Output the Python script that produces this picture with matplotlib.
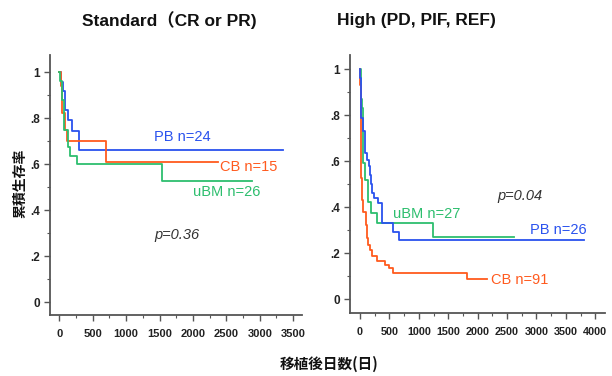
import matplotlib
matplotlib.use("Agg")
import matplotlib.pyplot as plt
from matplotlib.ticker import MultipleLocator, FixedLocator

plt.rcParams['font.family'] = ['Liberation Sans', 'Noto Sans CJK JP', 'DejaVu Sans']

# ---------------- data ----------------
panel_titles = ["Standard（CR or PR)", "High (PD, PIF, REF)"]
x_label = "移植後日数(日)"
y_label = "累積生存率"
y_tick_labels = ["0", ".2", ".4", ".6", ".8", "1"]
y_ticks = [0, 0.2, 0.4, 0.6, 0.8, 1.0]

# Standard risk
std_pb_t = [0, 25, 60, 90, 130, 190, 290]
std_pb_s = [1.0, 0.958, 0.917, 0.833, 0.792, 0.745, 0.66]
std_pb_end = 3350
std_cb_t = [0, 30, 45, 85, 110, 700]
std_cb_s = [1.0, 0.94, 0.82, 0.75, 0.70, 0.61]
std_cb_end = 2380
std_bm_t = [0, 10, 40, 70, 130, 160, 270, 1540]
std_bm_s = [1.0, 0.96, 0.88, 0.75, 0.675, 0.635, 0.60, 0.525]
std_bm_end = 2880

# High risk
hi_pb_t = [0, 5, 10, 17, 57, 85, 113, 153, 170, 185, 198, 243, 300, 368, 566, 668]
hi_pb_s = [1.0, 0.96, 0.88, 0.786, 0.73, 0.634, 0.605, 0.579, 0.54, 0.50, 0.46, 0.438, 0.417, 0.33, 0.294, 0.257]
hi_pb_end = 3800
hi_cb_t = [0, 5, 10, 15, 22, 28, 57, 96, 113, 142, 170, 198, 283, 425, 499, 567, 1820]
hi_cb_s = [1.0, 0.93, 0.79, 0.634, 0.525, 0.43, 0.38, 0.323, 0.265, 0.236, 0.214, 0.188, 0.168, 0.149, 0.135, 0.113, 0.087]
hi_cb_end = 2160
hi_bm_t = [0, 15, 35, 55, 85, 142, 187, 283, 1247]
hi_bm_s = [1.0, 0.87, 0.83, 0.59, 0.52, 0.424, 0.373, 0.333, 0.272]
hi_bm_end = 2610

labels_std = ["PB n=24", "CB n=15", "uBM n=26"]
labels_hi = ["PB n=26", "CB n=91", "uBM n=27"]
pvals = ["p=0.36", "p=0.04"]

BLUE = "#2A52EE"
ORANGE = "#FF5A1E"
GREEN = "#2DBE6E"

fig = plt.figure(figsize=(6.12, 3.76), dpi=100)
axL = fig.add_axes([0.0817, 0.1622, 0.4118, 0.6915])
axR = fig.add_axes([0.5719, 0.1676, 0.4167, 0.686])

def km(ax, t, s, end, color):
    ax.step(list(t) + [end], list(s) + [s[-1]], where='post', color=color, lw=1.3)

km(axL, std_pb_t, std_pb_s, std_pb_end, BLUE)
km(axL, std_cb_t, std_cb_s, std_cb_end, ORANGE)
km(axL, std_bm_t, std_bm_s, std_bm_end, GREEN)

km(axR, hi_bm_t, hi_bm_s, hi_bm_end, GREEN)
km(axR, hi_cb_t, hi_cb_s, hi_cb_end, ORANGE)
km(axR, hi_pb_t, hi_pb_s, hi_pb_end, BLUE)

def style(ax, xmax_tick, xlim, ylim, xsize):
    ax.set_xlim(*xlim)
    ax.set_ylim(*ylim)
    for sp in ['top', 'right']:
        ax.spines[sp].set_visible(False)
    for sp in ['left', 'bottom']:
        ax.spines[sp].set_color('#555555')
        ax.spines[sp].set_linewidth(1.3)
    ax.set_xticks(list(range(0, xmax_tick + 1, 500)))
    ax.xaxis.set_minor_locator(MultipleLocator(250))
    ax.set_yticks(y_ticks)
    ax.set_yticklabels(y_tick_labels)
    ax.yaxis.set_minor_locator(FixedLocator([0.1, 0.3, 0.5, 0.7, 0.9]))
    ax.tick_params(axis='both', which='major', length=4, width=1, color='#555555',
                   labelcolor='#222222', pad=3)
    ax.tick_params(axis='x', labelsize=xsize, pad=6)
    ax.tick_params(axis='y', labelsize=8.5)
    ax.tick_params(axis='both', which='minor', length=2.5, width=0.8, color='#555555')
    for lab in ax.get_xticklabels() + ax.get_yticklabels():
        lab.set_fontweight('bold')

style(axL, 3500, (-139, 3633), (-0.0565, 1.074), 8)
style(axR, 4000, (-170, 4165), (-0.0595, 1.061), 7.8)

# annotations left
axL.text(1837, 0.717, labels_std[0], color=BLUE, fontsize=10.5, ha='center', va='center')
axL.text(2404, 0.588, labels_std[1], color=ORANGE, fontsize=10.5, ha='left', va='center')
axL.text(1997, 0.48, labels_std[2], color=GREEN, fontsize=10.5, ha='left', va='center')
axL.text(1757, 0.29, pvals[0], color='#333333', fontsize=10.5, style='italic', ha='center', va='center')

# annotations right
axR.text(556, 0.37, labels_hi[2], color=GREEN, fontsize=10.5, ha='left', va='center')
axR.text(2890, 0.30, labels_hi[0], color=BLUE, fontsize=10.5, ha='left', va='center')
axR.text(2227, 0.084, labels_hi[1], color=ORANGE, fontsize=10.5, ha='left', va='center')
axR.text(2720, 0.449, pvals[1], color='#333333', fontsize=10.5, style='italic', ha='center', va='center')

# titles
fig.text(169 / 612, 1 - 20 / 376, panel_titles[0], fontsize=12.5, fontweight='bold',
         ha='center', va='center', color='#111111')
fig.text(416 / 612, 1 - 20 / 376, panel_titles[1], fontsize=12.5, fontweight='bold',
         ha='center', va='center', color='#111111')

# axis labels
fig.text(329 / 612, 1 - 364 / 376, x_label, fontsize=10.5, fontweight='bold',
         ha='center', va='center', color='#111111', family=['Noto Sans CJK JP'])
fig.text(20 / 612, 1 - 183 / 376, y_label, fontsize=10, fontweight='bold', rotation=90,
         ha='center', va='center', color='#111111', family=['Noto Sans CJK JP'])

fig.savefig("out.png", dpi=100)
